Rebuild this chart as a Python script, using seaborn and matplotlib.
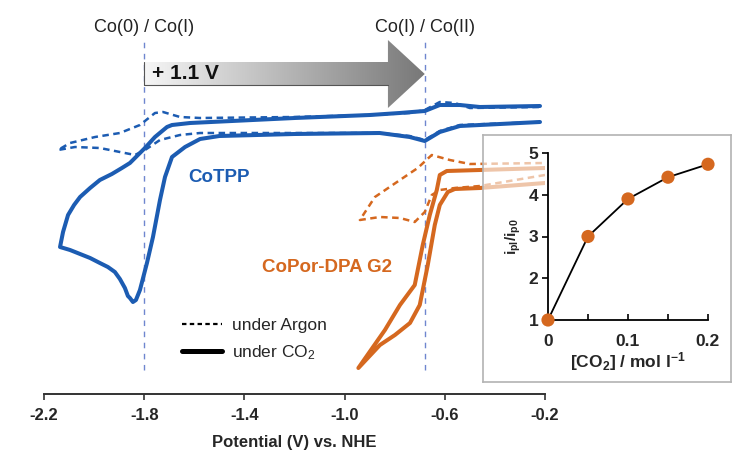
import matplotlib
matplotlib.use("Agg")
import matplotlib.pyplot as plt
from matplotlib.lines import Line2D
from matplotlib.patches import Polygon
import numpy as np
import pandas as pd
import seaborn as sns

# CoTPP, under CO2 (potential V vs NHE, current a.u.)
cotpp_co2_v = [-0.22, -0.38, -0.54, -0.62, -0.68, -0.74, -0.86, -1.20, -1.50, -1.577,
               -1.637, -1.689, -1.717, -1.737, -1.765, -1.789, -1.817, -1.833, -1.845,
               -1.857, -1.865, -1.877, -1.897, -1.917, -1.945, -1.977, -2.016, -2.056,
               -2.096, -2.136, -2.124, -2.104, -2.080, -2.056, -2.016, -1.977, -1.929,
               -1.889, -1.857, -1.837, -1.797, -1.757, -1.709, -1.689, -1.617, -1.20,
               -0.899, -0.78, -0.68, -0.62, -0.54, -0.46, -0.22]
cotpp_co2_i = [27.2, 27.0, 26.8, 26.2, 25.3, 25.7, 26.1, 26.0, 25.8, 25.5,
               24.7, 23.7, 21.7, 19.4, 15.7, 13.1, 10.4, 9.4, 9.2,
               9.6, 9.8, 10.6, 11.5, 12.2, 12.7, 13.1, 13.6, 14.0,
               14.4, 14.7, 16.2, 17.9, 18.9, 19.7, 20.6, 21.4, 22.0,
               22.6, 23.1, 23.6, 24.6, 25.7, 26.7, 26.9, 27.1, 27.6,
               27.9, 28.1, 28.3, 28.9, 28.9, 28.7, 28.8]

# CoTPP, under argon
cotpp_ar_v = [-0.22, -0.54, -0.62, -0.68, -0.74, -0.86, -1.20, -1.577, -1.657, -1.737,
              -1.797, -1.837, -1.897, -1.977, -2.076, -2.144, -2.096, -1.996, -1.897,
              -1.817, -1.757, -1.725, -1.657, -1.577, -1.20, -0.899, -0.74, -0.68,
              -0.62, -0.56, -0.50, -0.22]
cotpp_ar_i = [27.2, 26.9, 26.3, 25.4, 25.8, 26.1, 26.1, 26.1, 25.9, 25.4,
              24.4, 23.9, 24.2, 24.6, 24.7, 24.4, 25.1, 25.7, 26.1,
              26.9, 28.1, 28.2, 27.7, 27.6, 27.7, 27.9, 28.1, 28.4,
              29.2, 29.1, 28.6, 28.7]

# CoPor-DPA G2, under CO2
copor_co2_v = [-0.20, -0.46, -0.56, -0.588, -0.62, -0.64, -0.668, -0.70, -0.739,
               -0.799, -0.859, -0.945, -0.839, -0.779, -0.72, -0.688, -0.66, -0.632,
               -0.62, -0.592, -0.46, -0.20]
copor_co2_i = [21.1, 20.6, 20.5, 20.2, 18.9, 16.9, 12.9, 8.9, 7.1,
               5.9, 4.9, 2.6, 6.4, 8.9, 10.9, 14.9, 17.9, 20.4,
               21.9, 22.3, 22.4, 22.6]

# CoPor-DPA G2, under argon
copor_ar_v = [-0.20, -0.46, -0.56, -0.62, -0.652, -0.68, -0.72, -0.779, -0.859,
              -0.939, -0.879, -0.779, -0.708, -0.652, -0.58, -0.50, -0.20]
copor_ar_i = [21.9, 20.8, 20.6, 20.4, 19.9, 18.2, 17.2, 17.6, 17.7,
              17.4, 19.7, 21.4, 22.6, 23.9, 23.4, 23.0, 23.1]

# inset: catalytic current ratio vs CO2 concentration
co2_conc = [0.0, 0.05, 0.10, 0.15, 0.20]
ip_ratio = [1.0, 3.0, 3.9, 4.42, 4.73]

redox_potentials = [-1.8, -0.68]
redox_labels = ["Co(0) / Co(I)", "Co(I) / Co(II)"]
xticks_main = [-2.2, -1.8, -1.4, -1.0, -0.6, -0.2]

blue = "#1c5cb2"
orange = "#d5681f"

sns.set_theme(style="white")
plt.rcParams["font.family"] = ["Liberation Sans", "DejaVu Sans"]
plt.rcParams["mathtext.default"] = "regular"

fig = plt.figure(figsize=(7.35, 4.54), dpi=100)
W, H = 735, 454
ax = fig.add_axes([44 / W, (H - 394) / H, (545 - 44) / W, (394 - 34) / H])
ax.set_xlim(-2.2, -0.2)
ax.set_ylim(0, 36)

curves = [
    (cotpp_co2_v, cotpp_co2_i, blue, "-", 2.9),
    (cotpp_ar_v, cotpp_ar_i, blue, (0, (2.6, 1.8)), 1.8),
    (copor_co2_v, copor_co2_i, orange, "-", 2.9),
    (copor_ar_v, copor_ar_i, orange, (0, (2.6, 1.8)), 1.8),
]
for v, i, col, ls, lw in curves:
    df = pd.DataFrame({"E": v, "I": i})
    sns.lineplot(data=df, x="E", y="I", sort=False, estimator=None, color=col,
                 linestyle=ls, linewidth=lw, ax=ax, solid_joinstyle="round",
                 solid_capstyle="round")

# redox marker lines and labels
ax.vlines(redox_potentials, 2.4, 35.2, colors="#6f86cf", linestyles=(0, (4, 4)),
          linewidth=1.0, zorder=1)
for e, lab in zip(redox_potentials, redox_labels):
    ax.text(e, 36.6, lab, ha="center", va="center", fontsize=13, color="#222222",
            clip_on=False)

# gradient arrow between the two redox potentials
e0, e1 = redox_potentials
head_start = -0.827
arrow = Polygon([(e0, 33.2), (head_start, 33.2), (head_start, 35.4), (e1, 32.0),
                 (head_start, 28.6), (head_start, 30.9), (e0, 30.9)],
                closed=True, facecolor="none", edgecolor="none")
ax.add_patch(arrow)
grad = np.linspace(0, 1, 256).reshape(1, -1)
img = ax.imshow(grad, cmap=matplotlib.colors.LinearSegmentedColormap.from_list(
    "g", ["#f6f6f6", "#787878"]), extent=(e0, e1, 28.6, 35.4), aspect="auto",
    zorder=2)
img.set_clip_path(arrow)
ax.plot([e0, e0, head_start], [33.2, 30.9, 30.9], color="#555555", lw=0.8, zorder=3)
ax.text(e0 + 0.03, 32.05, "+ 1.1 V", ha="left", va="center", fontsize=15,
        fontweight="bold", color="#111111", zorder=4)

ax.text(-1.625, 21.6, "CoTPP", color=blue, fontsize=13.5, fontweight="bold",
        ha="left", va="center")
ax.text(-1.33, 12.6, "CoPor-DPA G2", color=orange, fontsize=13.5,
        fontweight="bold", ha="left", va="center")

handles = [Line2D([], [], color="black", lw=1.6, linestyle=(0, (2, 1.5))),
           Line2D([], [], color="black", lw=3.6)]
ax.legend(handles, ["under Argon", "under CO$_2$"], frameon=False, fontsize=12.5,
          loc="upper left", bbox_to_anchor=(166 / W, (H - 302) / H),
          bbox_transform=fig.transFigure, handlelength=2.3, handletextpad=0.6,
          labelspacing=0.6)

ax.set_xticks(xticks_main)
ax.set_xticklabels([f"{t:.1f}" for t in xticks_main], fontweight="bold", fontsize=12)
ax.set_yticks([])
ax.set_xlabel("Potential (V) vs. NHE", fontsize=12, fontweight="bold", labelpad=9)
ax.set_ylabel("")
for s in ["top", "right", "left"]:
    ax.spines[s].set_visible(False)
ax.spines["bottom"].set_color("#333333")
ax.spines["bottom"].set_linewidth(1.4)
ax.spines["bottom"].set_bounds(-2.2, -0.2)
ax.tick_params(axis="x", direction="out", length=4, width=1.2, color="#333333",
               bottom=True, pad=6)
ax.patch.set_alpha(0)

# inset panel
box = fig.add_axes([483 / W, (H - 382) / H, (731 - 483) / W, (382 - 135) / H])
box.set_xticks([])
box.set_yticks([])
box.patch.set_facecolor("white")
box.patch.set_alpha(0.62)
for s in box.spines.values():
    s.set_color("#b3b3b3")
    s.set_linewidth(1.2)

ins = fig.add_axes([548 / W, (H - 320) / H, 160 / W, 167 / H])
ins.patch.set_alpha(0)
sns.lineplot(x=co2_conc, y=ip_ratio, color="black", linewidth=1.3, ax=ins,
             estimator=None, sort=False)
sns.scatterplot(x=co2_conc, y=ip_ratio, color=orange, s=90, edgecolor="none",
                ax=ins, zorder=5, clip_on=False)
ins.set_xlim(0, 0.2)
ins.set_ylim(1, 5)
ins.set_xticks([0, 0.05, 0.1, 0.15, 0.2])
ins.set_xticklabels(["0", "", "0.1", "", "0.2"], fontweight="bold", fontsize=12.5)
ins.set_yticks([1, 2, 3, 4, 5])
ins.set_yticklabels(["1", "2", "3", "4", "5"], fontweight="bold", fontsize=12.5)
ins.tick_params(axis="x", direction="in", length=4, width=1.2, color="black",
                bottom=True, pad=10)
ins.tick_params(axis="y", direction="out", length=4, width=1.2, color="black",
                left=True, pad=3)
for s in ["top", "right"]:
    ins.spines[s].set_visible(False)
for s in ["left", "bottom"]:
    ins.spines[s].set_color("black")
    ins.spines[s].set_linewidth(1.3)
ins.set_xlabel("[CO$_2$] / mol l$^{-1}$", fontsize=12.5, fontweight="bold", labelpad=1)
ins.set_ylabel("i$_{pl}$/i$_{p0}$", fontsize=11, fontweight="bold", labelpad=4)

fig.savefig("out.png", dpi=100)
